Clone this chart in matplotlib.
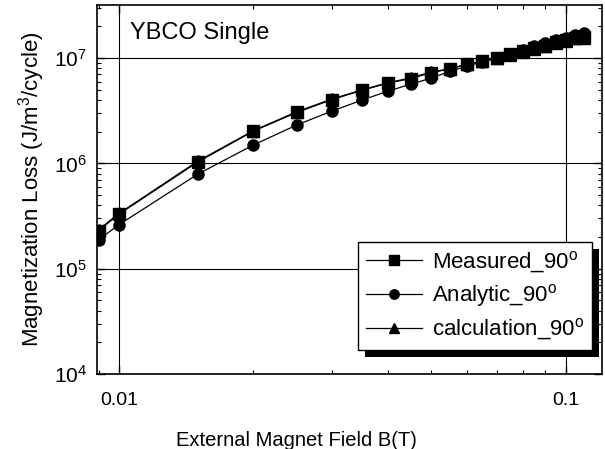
import matplotlib
matplotlib.use('Agg')
import matplotlib.pyplot as plt
from matplotlib.patches import Rectangle
from matplotlib.ticker import LogLocator, NullFormatter, FixedLocator, FixedFormatter

plt.rcParams['font.family'] = ['Liberation Sans', 'DejaVu Sans']
plt.rcParams['mathtext.fontset'] = 'custom'
plt.rcParams['mathtext.rm'] = 'Liberation Sans'

# field values (T)
field = [0.009, 0.01, 0.015, 0.02, 0.025, 0.03, 0.035, 0.04, 0.045, 0.05, 0.055,
         0.06, 0.065, 0.07, 0.075, 0.08, 0.085, 0.09, 0.095, 0.1, 0.105, 0.11]

# magnetization loss (J/m^3/cycle)
measured = [2.3e5, 3.3e5, 1.03e6, 2.03e6, 3.05e6, 4.05e6, 4.95e6, 5.8e6, 6.4e6, 7.3e6, 7.9e6,
            8.8e6, 9.35e6, 1.0e7, 1.09e7, 1.16e7, 1.24e7, 1.31e7, 1.41e7, 1.48e7, 1.55e7, 1.59e7]
analytic = [1.88e5, 2.62e5, 7.9e5, 1.5e6, 2.32e6, 3.15e6, 4.0e6, 4.86e6, 5.67e6, 6.46e6, 7.5e6,
            8.4e6, 9.2e6, 1.0e7, 1.1e7, 1.2e7, 1.3e7, 1.38e7, 1.48e7, 1.56e7, 1.65e7, 1.72e7]
calculation = [2.35e5, 3.35e5, 1.05e6, 2.05e6, 3.1e6, 4.1e6, 5.0e6, 5.85e6, 6.5e6, 7.4e6, 7.9e6,
               8.75e6, 9.3e6, 1.0e7, 1.08e7, 1.15e7, 1.23e7, 1.3e7, 1.4e7, 1.47e7, 1.54e7, 1.57e7]

fig = plt.figure(figsize=(6.05, 4.49), dpi=100)
ax = fig.add_axes([97/605, 1-374/449, 505/605, 369/449])

kw = dict(color='black', lw=0.9, ms=8, mfc='black', mec='black')
ax.plot(field, measured, marker='s', label='Measured_90$^\\mathrm{o}$', **kw)
ax.plot(field, analytic, marker='o', label='Analytic_90$^\\mathrm{o}$', **kw)
ax.plot(field, calculation, marker='^', label='calculation_90$^\\mathrm{o}$', **kw)

ax.set_xscale('log')
ax.set_yscale('log')
ax.set_xlim(0.00893, 0.1205)
ax.set_ylim(1e4, 3.2e7)

ax.xaxis.set_major_locator(FixedLocator([0.01, 0.1]))
ax.xaxis.set_major_formatter(FixedFormatter(['0.01', '0.1']))
ax.xaxis.set_minor_locator(LogLocator(base=10, subs=range(2, 10)))
ax.xaxis.set_minor_formatter(NullFormatter())
ax.yaxis.set_major_locator(LogLocator(base=10, numticks=10))
ax.yaxis.set_minor_locator(LogLocator(base=10, subs=range(2, 10), numticks=10))
ax.yaxis.set_minor_formatter(NullFormatter())

ax.tick_params(which='both', direction='in', top=True, right=True)
ax.tick_params(which='major', length=6, width=1)
ax.tick_params(which='minor', length=3, width=0.8)
ax.tick_params(axis='x', pad=13, labelsize=14)
ax.tick_params(axis='y', pad=7, labelsize=15)
ax.grid(which='major', color='black', lw=0.8)
for s in ax.spines.values():
    s.set_linewidth(1.2)

ax.set_ylabel('Magnetization Loss (J/m$^3$/cycle)', fontsize=16, labelpad=5)
fig.text(296/605, 1-441/449, 'External Magnet Field B(T)', fontsize=14.5,
         ha='center', va='center')
ax.text(0.065, 0.924, 'YBCO Single', transform=ax.transAxes, fontsize=17, va='center')

leg = ax.legend(loc='lower right', bbox_to_anchor=(0.98, 0.065), borderaxespad=0,
                fontsize=16, fancybox=False, edgecolor='black', framealpha=1,
                handlelength=2.5, handletextpad=0.45, labelspacing=0.33,
                borderpad=0.35, numpoints=1, markerscale=0.85)
leg.get_frame().set_linewidth(1)
leg.set_zorder(20)

# offset black shadow behind the legend box
fig.canvas.draw()
bb = leg.get_window_extent().transformed(fig.transFigure.inverted())
shadow = Rectangle((bb.x0 + 7/605, bb.y0 - 7/449), bb.width, bb.height,
                   transform=fig.transFigure, facecolor='black', edgecolor='none',
                   zorder=15, clip_on=False)
ax.add_patch(shadow)

fig.savefig('out.png', dpi=100)
